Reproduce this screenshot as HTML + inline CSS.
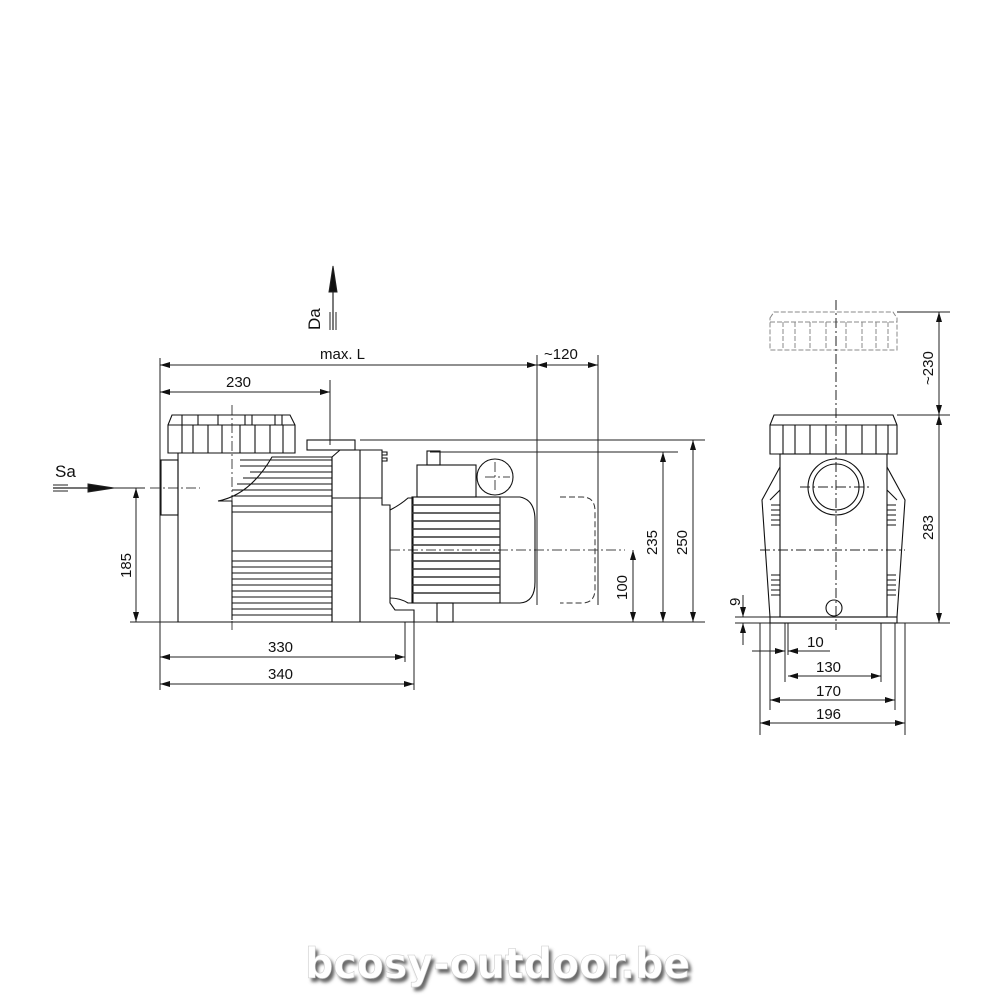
<!DOCTYPE html>
<html><head><meta charset="utf-8"><style>
html,body{margin:0;padding:0;background:#fff}
svg{display:block}
text{font-family:"Liberation Sans",Arial,sans-serif;fill:#111}
</style></head><body>
<svg width="1000" height="1000" viewBox="0 0 1000 1000" xmlns="http://www.w3.org/2000/svg">
<defs>
<marker id="a" viewBox="0 0 10 6" refX="10" refY="3" markerWidth="11" markerHeight="6" orient="auto-start-reverse" markerUnits="userSpaceOnUse"><path d="M0,0L10,3L0,6z" fill="#111"/></marker>
<filter id="sh" x="-5%" y="-20%" width="110%" height="150%"><feGaussianBlur stdDeviation="1.5"/></filter>
</defs>
<g stroke="#222" stroke-width="1" fill="none">
<!-- extension lines -->
<line x1="160" y1="358" x2="160" y2="690"/>
<line x1="330" y1="380" x2="330" y2="445"/>
<line x1="537" y1="355" x2="537" y2="605"/>
<line x1="598" y1="355" x2="598" y2="605"/>
<line x1="130" y1="622" x2="705" y2="622"/>
<line x1="360" y1="440" x2="705" y2="440"/>
<line x1="430" y1="452" x2="678" y2="452"/>
<line x1="113" y1="488" x2="145" y2="488"/>
<line x1="405" y1="622" x2="405" y2="662"/>
<line x1="414" y1="622" x2="414" y2="690"/>
<!-- dims -->
<line x1="160" y1="365" x2="537" y2="365" marker-start="url(#a)" marker-end="url(#a)"/>
<line x1="537" y1="365" x2="598" y2="365" marker-start="url(#a)" marker-end="url(#a)"/>
<line x1="160" y1="392" x2="330" y2="392" marker-start="url(#a)" marker-end="url(#a)"/>
<line x1="693" y1="440" x2="693" y2="622" marker-start="url(#a)" marker-end="url(#a)"/>
<line x1="663" y1="452" x2="663" y2="622" marker-start="url(#a)" marker-end="url(#a)"/>
<line x1="633" y1="550" x2="633" y2="622" marker-start="url(#a)" marker-end="url(#a)"/>
<line x1="136" y1="488" x2="136" y2="622" marker-start="url(#a)" marker-end="url(#a)"/>
<line x1="160" y1="657" x2="405" y2="657" marker-start="url(#a)" marker-end="url(#a)"/>
<line x1="160" y1="684" x2="414" y2="684" marker-start="url(#a)" marker-end="url(#a)"/>
<!-- Da / Sa -->
<line x1="333" y1="268" x2="333" y2="330" stroke-width="1.2"/>
<path d="M333,266 L329,292 L337,292z" fill="#111"/>
<line x1="330" y1="312" x2="330" y2="330"/><line x1="336" y1="312" x2="336" y2="330"/>
<line x1="53" y1="488" x2="112" y2="488" stroke-width="1.2"/>
<path d="M114,488 L88,484 L88,492z" fill="#111"/>
<line x1="53" y1="485" x2="68" y2="485"/><line x1="53" y1="491" x2="68" y2="491"/>
<!-- center lines -->
<g stroke-dasharray="10,3,2,3" stroke="#444">
<line x1="232" y1="405" x2="232" y2="630"/>
<line x1="150" y1="488" x2="200" y2="488"/>
<line x1="390" y1="550" x2="625" y2="550"/>
<line x1="485" y1="477" x2="510" y2="477"/><line x1="495" y1="462" x2="495" y2="492"/>
</g>
<!-- pump side view -->
<g stroke="#111" stroke-width="1.1">
<path d="M168,425 L172,415 L290,415 L295,425 L295,453 L168,453z"/>
<line x1="168" y1="425" x2="295" y2="425"/>
<path d="M182,415v10M198,415v10M218,415v10M245,415v10M252,415v10M275,415v10M282,415v10"/>
<path d="M182,425v28M193,425v28M208,425v28M222,425v28M240,425v28M255,425v28M270,425v28M283,425v28"/>
<rect x="161" y="460" width="17" height="55"/>
<path d="M178,453 L178,622 L332,622 L332,457 L272,457 Q250,495 218,501 L232,501 L232,620"/>
<line x1="232" y1="512" x2="332" y2="512"/><line x1="232" y1="551" x2="332" y2="551"/>
<path d="M240,466h92M250,472h82M243,478h89M237,484h95M232,490h100M232,496h100M232,506h100M232,561h100M232,567h100M232,573h100M232,579h100M232,585h100M232,591h100M232,597h100M232,603h100M232,609h100M232,615h100M240,460h92"/>
<rect x="307" y="440" width="48" height="10"/>
<path d="M332,457 L340,450 L382,450 L382,505 L390,505 L390,603 L395,610 L414,610 L414,622 L332,622z"/>
<line x1="360" y1="450" x2="360" y2="622"/>
<line x1="332" y1="498" x2="382" y2="498"/>
<path d="M382,452 h5 v3 h-5 M382,458 h5 v3 h-5"/>
<path d="M390,510 Q400,505 408,498 L413,498 L413,603 L408,603 Q400,598 390,598"/>
<rect x="412" y="497" width="88" height="106"/>
<path d="M412,505h88M412,513h88M412,521h88M412,529h88M412,537h88M412,545h88M412,553h88M412,561h88M412,569h88M412,577h88M412,585h88M412,593h88" stroke-width="1.6" stroke="#333"/>
<path d="M500,497 L520,497 Q535,500 535,520 L535,582 Q535,602 520,603 L500,603"/>
<rect x="417" y="465" width="59" height="32"/>
<rect x="427" y="451" width="13" height="14"/>
<circle cx="495" cy="477" r="18"/>
<rect x="437" y="603" width="16" height="19"/>
</g>
<path d="M560,497 h22 q13,0 13,14 v78 q0,14 -13,14 h-22" stroke="#333" stroke-dasharray="6,3" stroke-width="1"/>
<!-- front view -->
<g stroke="#888" stroke-dasharray="5,2" stroke-width="1">
<path d="M770,318 L774,312 L893,312 L897,318 L897,350 L770,350z"/>
<line x1="770" y1="322" x2="897" y2="322"/>
<path d="M783,322v28M795,322v28M810,322v28M826,322v28M846,322v28M862,322v28M876,322v28M888,322v28"/>
</g>
<g stroke="#222" stroke-width="1">
<line x1="836" y1="300" x2="836" y2="630" stroke-dasharray="10,3,2,3"/>
<line x1="800" y1="487" x2="870" y2="487" stroke-dasharray="10,3,2,3"/>
<line x1="760" y1="550" x2="905" y2="550" stroke-dasharray="10,3,2,3"/>
<line x1="897" y1="312" x2="950" y2="312"/>
<line x1="897" y1="415" x2="950" y2="415"/>
<line x1="735" y1="617" x2="780" y2="617"/>
<line x1="735" y1="623" x2="950" y2="623"/>
<line x1="939" y1="312" x2="939" y2="415" marker-start="url(#a)" marker-end="url(#a)"/>
<line x1="939" y1="415" x2="939" y2="623" marker-start="url(#a)" marker-end="url(#a)"/>
<line x1="743" y1="595" x2="743" y2="617" marker-end="url(#a)"/>
<line x1="743" y1="645" x2="743" y2="623" marker-end="url(#a)"/>
<line x1="760" y1="623" x2="760" y2="735"/><line x1="770" y1="623" x2="770" y2="710"/>
<line x1="785" y1="623" x2="785" y2="682"/><line x1="788" y1="623" x2="788" y2="655"/>
<line x1="881" y1="623" x2="881" y2="682"/><line x1="895" y1="623" x2="895" y2="710"/>
<line x1="905" y1="623" x2="905" y2="735"/>
<line x1="752" y1="651" x2="785" y2="651" marker-end="url(#a)"/>
<line x1="830" y1="651" x2="788" y2="651" marker-end="url(#a)"/>
<line x1="788" y1="676" x2="881" y2="676" marker-start="url(#a)" marker-end="url(#a)"/>
<line x1="770" y1="700" x2="895" y2="700" marker-start="url(#a)" marker-end="url(#a)"/>
<line x1="760" y1="723" x2="905" y2="723" marker-start="url(#a)" marker-end="url(#a)"/>
</g>
<g stroke="#111" stroke-width="1.1">
<path d="M770,425 L774,415 L893,415 L897,425 L897,454 L770,454z"/>
<line x1="770" y1="425" x2="897" y2="425"/>
<path d="M783,425v29M795,425v29M810,425v29M826,425v29M846,425v29M862,425v29M876,425v29M888,425v29"/>
<rect x="780" y="454" width="107" height="163"/>
<path d="M780,467 L762,500 L770,617 L780,617 M770,500 L780,490"/>
<path d="M887,467 L905,500 L897,617 L887,617 M897,500 L887,490"/>
<path d="M771,505h9M771,510h9M771,515h9M771,520h9M771,525h9M771,575h9M771,580h9M771,585h9M771,590h9M771,595h9"/>
<path d="M887,505h9M887,510h9M887,515h9M887,520h9M887,525h9M887,575h9M887,580h9M887,585h9M887,590h9M887,595h9"/>
<rect x="770" y="617" width="127" height="6"/>
<circle cx="836" cy="487" r="28"/><circle cx="836" cy="487" r="23"/>
<circle cx="834" cy="608" r="8"/>
</g>
</g>
<!-- labels -->
<g font-size="15">
<text x="320" y="359">max. L</text>
<text x="544" y="359">~120</text>
<text x="226" y="387">230</text>
<text x="268" y="652">330</text>
<text x="268" y="679">340</text>
<text x="55" y="477" font-size="17">Sa</text>
<text transform="translate(320,330) rotate(-90)" font-size="17">Da</text>
<text transform="translate(131,578) rotate(-90)">185</text>
<text transform="translate(627,600) rotate(-90)">100</text>
<text transform="translate(657,555) rotate(-90)">235</text>
<text transform="translate(687,555) rotate(-90)">250</text>
<text transform="translate(933,385) rotate(-90)">~230</text>
<text transform="translate(933,540) rotate(-90)">283</text>
<text transform="translate(740,606) rotate(-90)">9</text>
<text x="807" y="647">10</text>
<text x="816" y="672">130</text>
<text x="816" y="696">170</text>
<text x="816" y="719">196</text>
</g>
<text x="308" y="982" textLength="385" lengthAdjust="spacingAndGlyphs" filter="url(#sh)" style="font-family:'DejaVu Sans',sans-serif;font-weight:bold;font-size:42px;fill:#666">bcosy-outdoor.be</text>
<text x="305" y="978" textLength="385" lengthAdjust="spacingAndGlyphs" style="font-family:'DejaVu Sans',sans-serif;font-weight:bold;font-size:42px;fill:#fff;stroke:#ccc;stroke-width:0.6">bcosy-outdoor.be</text>
</svg>
</body></html>
